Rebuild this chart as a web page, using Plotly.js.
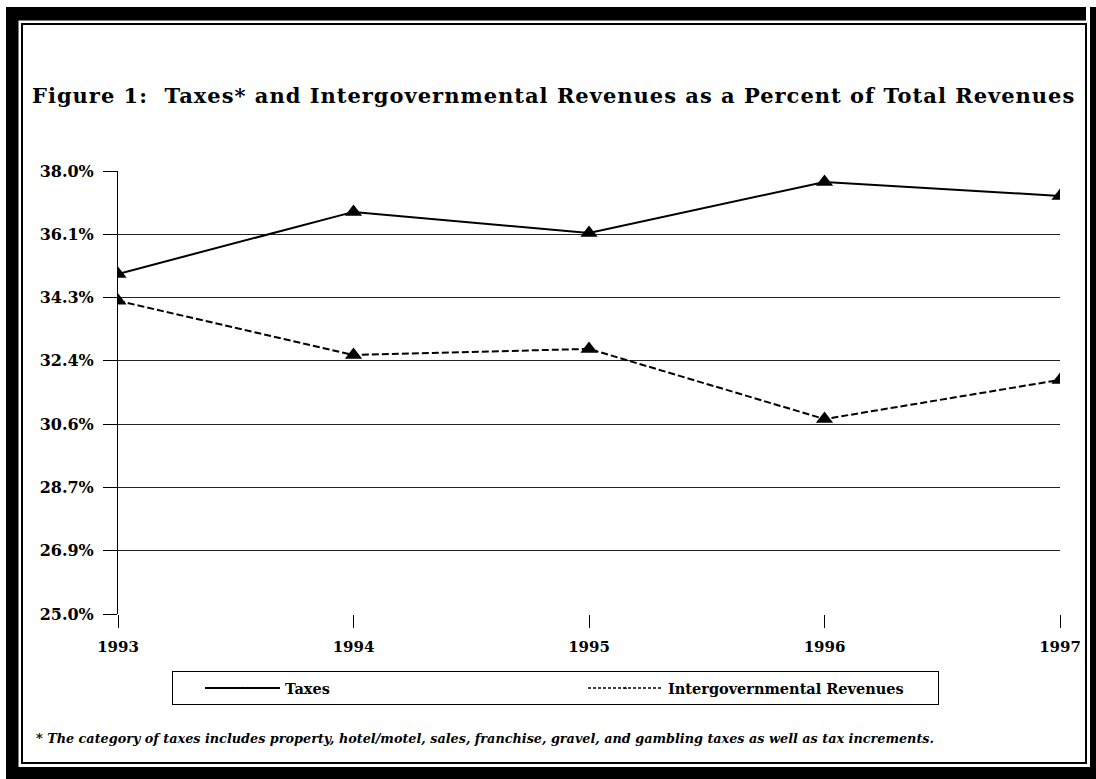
<!DOCTYPE html>
<html>
<head>
<meta charset="utf-8">
<script src="https://cdn.plot.ly/plotly-3.0.1.min.js"></script>
<style>
html,body{margin:0;padding:0;background:#fff;}
#chart{width:1096px;height:779px;}
#chart .gtitle{letter-spacing:1px;}
</style>
</head>
<body>
<div id="chart"></div>
<script>
// ---- data ----
const years = [1993, 1994, 1995, 1996, 1997];
const taxes = [34.98, 36.80, 36.18, 37.68, 37.27];
const intergov = [34.19, 32.60, 32.78, 30.72, 31.87];
const seriesNames = ["Taxes", "Intergovernmental Revenues"];
const yMin = 25.0, yMax = 38.0, yTickCount = 8;
const yTicks = Array.from({length: yTickCount}, (_, k) => yMin + k * (yMax - yMin) / (yTickCount - 1));
const titleText = "Figure 1:\u00a0\u00a0Taxes* and Intergovernmental Revenues as a Percent of Total Revenues";
const footnote = "* The category of taxes includes property, hotel/motel, sales, franchise, gravel, and gambling taxes as well as tax increments.";

// ---- layout geometry (pixels) ----
const W = 1096, H = 779;
const M = {l: 118, r: 36, t: 171, b: 165};
const PW = W - M.l - M.r, PH = H - M.t - M.b;
const px = x => (x - M.l) / PW;
const py = y => (H - M.b - y) / PH;

const serif = "DejaVu Serif, Liberation Serif, serif";

const traces = [
  {x: years, y: taxes, name: seriesNames[0], type: "scatter", mode: "lines+markers",
   line: {color: "#000", width: 2}, marker: {symbol: "triangle-up", size: 15, color: "#000"},
   showlegend: false, legendgroup: "a"},
  {x: years, y: intergov, name: seriesNames[1], type: "scatter", mode: "lines+markers",
   line: {color: "#000", width: 2, dash: "7px,3px"}, marker: {symbol: "triangle-up", size: 15, color: "#000"},
   showlegend: false, legendgroup: "b"},
  {x: [null], y: [null], name: seriesNames[0], type: "scatter", mode: "lines+markers",
   line: {color: "#000", width: 2}, marker: {symbol: "triangle-up", size: 3, color: "#000"},
   showlegend: true, legendgroup: "a"},
  {x: [null], y: [null], name: seriesNames[1], type: "scatter", mode: "lines+markers",
   line: {color: "#000", width: 1.5, dash: "3px,2px"}, marker: {symbol: "triangle-up", size: 3, color: "#000"},
   showlegend: true, legendgroup: "b"}
];

function rect(x0, y0, x1, y1, fill, lineW) {
  return {type: "rect", xref: "paper", yref: "paper",
    x0: px(x0), x1: px(x1), y0: py(y0), y1: py(y1),
    fillcolor: fill || "rgba(0,0,0,0)",
    line: {color: "#000", width: lineW || 0}, layer: "above"};
}

const shapes = [
  rect(6, 7, 18.5, 779, "#000"),
  rect(6, 7, 1086, 20.5, "#000"),
  rect(6, 767, 1096, 779, "#000"),
  rect(1090, 7, 1096, 779, "#000"),
  rect(22, 24, 1086, 763, null, 2)
];

const layout = {
  width: W, height: H,
  margin: M,
  paper_bgcolor: "#fff", plot_bgcolor: "#fff",
  font: {family: serif, color: "#000", size: 16},
  title: {text: "<b>" + titleText + "</b>", xref: "container", yref: "container",
    x: 32 / W, xanchor: "left", y: 1 - 96 / H, yanchor: "middle",
    font: {family: serif, size: 21, color: "#000"}},
  xaxis: {range: [years[0], years[years.length - 1]], tickvals: years,
    ticktext: years.map(v => "<b>" + v + "</b>"),
    showgrid: false, zeroline: false, showline: false,
    ticks: "outside", ticklen: 13, tickcolor: "#000", tickwidth: 1,
    ticklabelstandoff: 6,
    tickfont: {family: serif, size: 15, color: "#000"}, fixedrange: true},
  yaxis: {range: [yMin, yMax], tickvals: yTicks,
    ticktext: yTicks.map(v => "<b>" + v.toFixed(1) + "%</b>"),
    showgrid: true, gridcolor: "#222", gridwidth: 1, zeroline: false,
    showline: true, linecolor: "#000", linewidth: 1,
    ticks: "outside", ticklen: 14, tickcolor: "#000", tickwidth: 1,
    ticklabelstandoff: 6,
    tickfont: {family: serif, size: 16, color: "#000"}, fixedrange: true},
  showlegend: true,
  legend: {orientation: "h", x: px(172), xanchor: "left", y: py(671), yanchor: "top",
    bordercolor: "#000", borderwidth: 1, bgcolor: "#fff",
    indentation: 28, itemwidth: 75,
    entrywidth: 265, entrywidthmode: "pixels",
    font: {family: serif, size: 14.5, color: "#000", weight: "bold"}, valign: "middle"},
  shapes: shapes,
  annotations: [
    {text: "<b><i>" + footnote + "</i></b>", xref: "paper", yref: "paper",
     x: px(34), xanchor: "left", y: py(738), yanchor: "middle", showarrow: false,
     font: {family: serif, size: 12.8, color: "#000"}}
  ]
};

Plotly.newPlot("chart", traces, layout, {displayModeBar: false, staticPlot: true});
</script>
</body>
</html>
